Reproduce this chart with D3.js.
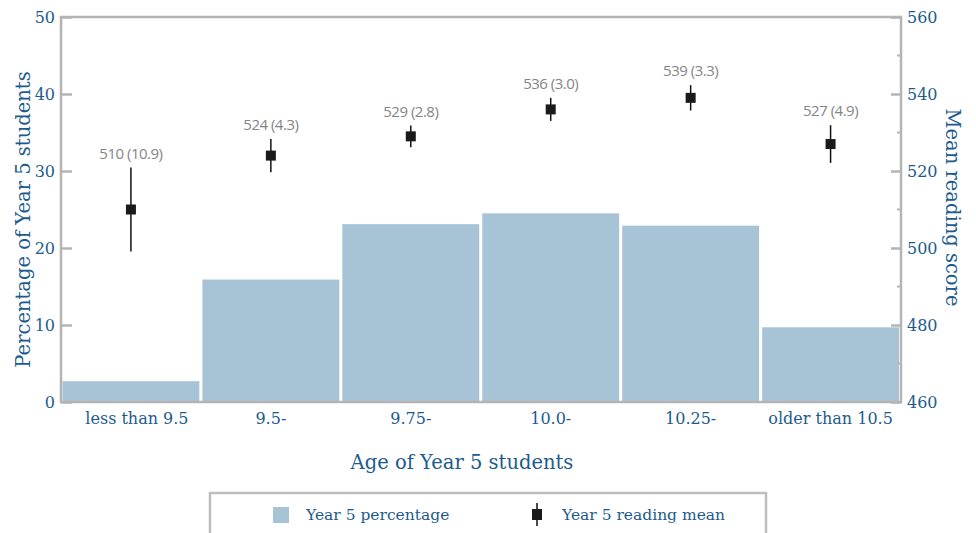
<!DOCTYPE html>
<html>
<head>
<meta charset="utf-8">
<script src="https://cdn.jsdelivr.net/npm/d3@7"></script>
<style>
  body { margin: 0; background: #fff; }
  .serif { font-family: "DejaVu Serif", "Liberation Serif", serif; fill: #1d5b8e; }
</style>
</head>
<body>
<div id="chart"></div>
<script>
// Data
const ageGroups = ["less than 9.5", "9.5-", "9.75-", "10.0-", "10.25-", "older than 10.5"];
const percentages = [2.7, 15.9, 23.1, 24.5, 22.9, 9.7];
const readingMeans = [510, 524, 529, 536, 539, 527];
const readingSE = [10.9, 4.3, 2.8, 3.0, 3.3, 4.9];
const leftTicks = [0, 10, 20, 30, 40, 50];
const rightTicks = [460, 480, 500, 520, 540, 560];
const rightMinorTicks = [470, 490, 510, 530, 550];

const W = 976, H = 533;
const plot = { left: 61, right: 901, top: 17, bottom: 402 };
const blue = "#1d5b8e";
const axisGrey = "#b4b4b4";
const barColor = "#a7c3d6";

const svg = d3.select("#chart")
  .append("svg")
    .attr("width", W)
    .attr("height", H);

const x = d3.scaleBand()
  .domain(ageGroups)
  .range([plot.left + 1.5, plot.right - 2])
  .paddingInner(0.022)
  .paddingOuter(0);

const yLeft = d3.scaleLinear().domain([0, 50]).range([plot.bottom, plot.top]);
const yRight = d3.scaleLinear().domain([460, 560]).range([plot.bottom, plot.top]);

// bars
svg.append("g")
  .selectAll("rect")
  .data(percentages)
  .enter().append("rect")
    .attr("x", (d, i) => x(ageGroups[i]))
    .attr("y", d => yLeft(d))
    .attr("width", x.bandwidth())
    .attr("height", d => yLeft(0) - yLeft(d) - 1)
    .attr("fill", barColor);

// frame
svg.append("rect")
  .attr("x", plot.left)
  .attr("y", plot.top)
  .attr("width", plot.right - plot.left)
  .attr("height", plot.bottom - plot.top)
  .attr("fill", "none")
  .attr("stroke", axisGrey)
  .attr("stroke-width", 2.5);

// left axis
const leftAxis = svg.append("g")
  .attr("transform", `translate(${plot.left},0)`)
  .call(d3.axisLeft(yLeft).tickValues(leftTicks).tickSize(-11).tickPadding(6));
leftAxis.select(".domain").remove();
leftAxis.selectAll(".tick line").attr("stroke", axisGrey).attr("stroke-width", 2.5);
leftAxis.selectAll(".tick text")
  .attr("class", "serif")
  .style("font-size", "16px")
  .attr("fill", blue);

// right axis
const rightAxis = svg.append("g")
  .attr("transform", `translate(${plot.right},0)`)
  .call(d3.axisRight(yRight).tickValues(rightTicks).tickSize(-10).tickPadding(6));
rightAxis.select(".domain").remove();
rightAxis.selectAll(".tick line").attr("stroke", axisGrey).attr("stroke-width", 2.5);
rightAxis.selectAll(".tick text")
  .attr("class", "serif")
  .style("font-size", "16px")
  .attr("fill", blue);

// minor ticks on right axis
svg.append("g")
  .selectAll("line")
  .data(rightMinorTicks)
  .enter().append("line")
    .attr("x1", plot.right - 4)
    .attr("x2", plot.right)
    .attr("y1", d => yRight(d))
    .attr("y2", d => yRight(d))
    .attr("stroke", axisGrey)
    .attr("stroke-width", 2);

// x tick labels
const xAxis = svg.append("g")
  .attr("transform", `translate(0,${plot.bottom})`)
  .call(d3.axisBottom(x).tickSize(0).tickPadding(11));
xAxis.select(".domain").remove();
xAxis.selectAll(".tick text")
  .attr("class", "serif")
  .style("font-size", "16px")
  .attr("fill", blue)
  .attr("dx", (d, i) => i === 0 ? 6 : 0);

// error bars and means
const means = svg.append("g")
  .selectAll("g")
  .data(readingMeans)
  .enter().append("g")
    .attr("transform", (d, i) => `translate(${x(ageGroups[i]) + x.bandwidth() / 2},0)`);

means.append("line")
  .attr("y1", (d, i) => yRight(d + readingSE[i]))
  .attr("y2", (d, i) => yRight(d - readingSE[i]))
  .attr("stroke", "#111")
  .attr("stroke-width", 1.5);

means.append("rect")
  .attr("x", -5)
  .attr("y", d => yRight(d) - 5)
  .attr("width", 10)
  .attr("height", 10)
  .attr("fill", "#1a1a1a");

means.append("text")
  .attr("y", (d, i) => yRight(d + readingSE[i]) - 9)
  .attr("text-anchor", "middle")
  .style("font-family", "'Open Sans', sans-serif")
  .style("font-size", "15px")
  .style("letter-spacing", "-0.5px")
  .attr("fill", "#858585")
  .text((d, i) => `${d} (${readingSE[i].toFixed(1)})`);

// axis titles
svg.append("text")
  .attr("class", "serif")
  .attr("transform", `translate(30,${(plot.top + plot.bottom) / 2 + 10}) rotate(-90)`)
  .attr("text-anchor", "middle")
  .style("font-size", "19.5px")
  .text("Percentage of Year 5 students");

svg.append("text")
  .attr("class", "serif")
  .attr("transform", `translate(946,${(plot.top + plot.bottom) / 2 - 2}) rotate(90)`)
  .attr("text-anchor", "middle")
  .style("font-size", "19.5px")
  .text("Mean reading score");

svg.append("text")
  .attr("class", "serif")
  .attr("x", 462)
  .attr("y", 469)
  .attr("text-anchor", "middle")
  .style("font-size", "19.5px")
  .text("Age of Year 5 students");

// legend
const legend = svg.append("g");
legend.append("rect")
  .attr("x", 210)
  .attr("y", 493)
  .attr("width", 556)
  .attr("height", 60)
  .attr("fill", "none")
  .attr("stroke", "#bdbdbd")
  .attr("stroke-width", 2.5);

legend.append("rect")
  .attr("x", 273)
  .attr("y", 507)
  .attr("width", 16)
  .attr("height", 16)
  .attr("fill", barColor);

legend.append("text")
  .attr("class", "serif")
  .attr("x", 306)
  .attr("y", 520)
  .style("font-size", "15.5px")
  .text("Year 5 percentage");

legend.append("line")
  .attr("x1", 537).attr("x2", 537)
  .attr("y1", 503).attr("y2", 526)
  .attr("stroke", "#111")
  .attr("stroke-width", 1.5);
legend.append("rect")
  .attr("x", 532)
  .attr("y", 509)
  .attr("width", 10)
  .attr("height", 11)
  .attr("fill", "#1a1a1a");

legend.append("text")
  .attr("class", "serif")
  .attr("x", 562)
  .attr("y", 520)
  .style("font-size", "15.5px")
  .text("Year 5 reading mean");
</script>
</body>
</html>
